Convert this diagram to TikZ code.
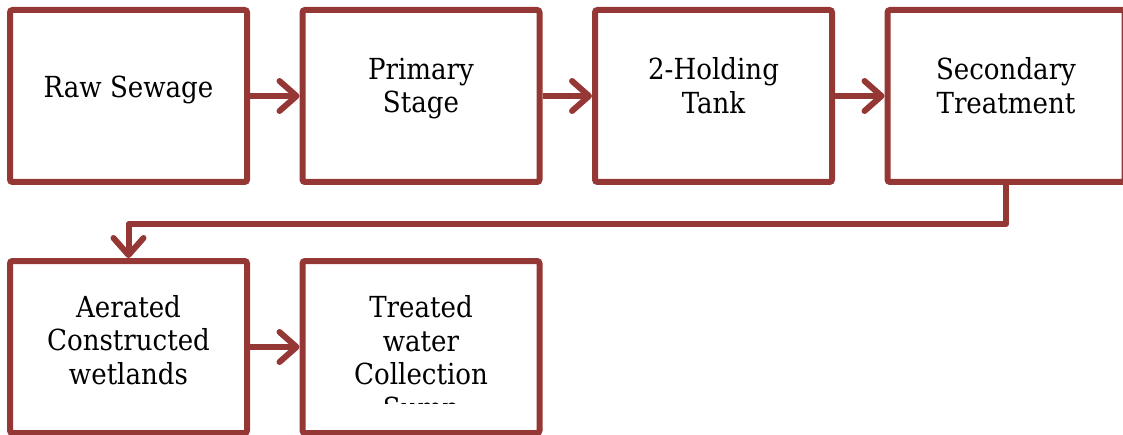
\documentclass[tikz,border=0pt]{standalone}
\usepackage{fontspec}
\setmainfont{DejaVu Serif Condensed}
\usetikzlibrary{arrows.meta}
\definecolor{boxred}{RGB}{149,55,53}
\tikzset{
  stepbox/.style={draw=boxred, line width=6pt, rounded corners=2.5pt, fill=white,
    minimum width=237pt, minimum height=172pt, inner sep=0pt},
  txt/.style={align=center, font=\fontsize{29}{33.5}\selectfont, inner sep=0pt,
    execute at begin node=\strut, execute at end node=\strut},
  conn/.style={draw=boxred, line width=6pt,
    -{Straight Barb[length=17pt,width=30pt,round]}},
}
\begin{document}
\begin{tikzpicture}[x=1pt,y=1pt]
\useasboundingbox (0,0) rectangle (1123,434);
\fill[white] (0,0) rectangle (1123,434);
% row 1
\node[stepbox] (b1) at (128.5,338) {};
\node[stepbox] (b2) at (421,338) {};
\node[stepbox] (b3) at (713.5,338) {};
\node[stepbox] (b4) at (1006,338) {};
% row 2
\node[stepbox] (b5) at (128.5,87) {};
\node[stepbox] (b6) at (421,87) {};
% texts
\node[txt] (t1) at (128.5,343.5) {Raw Sewage};
\node[txt] (t2) at (421,343.5) {Primary\\Stage};
\node[txt] (t3) at (713.5,343.5) {2-Holding\\Tank};
\node[txt] (t4) at (1006,343.5) {Secondary\\Treatment};
\node[txt] (t5) at (128.5,89) {Aerated\\Constructed\\wetlands};
\begin{scope}
\clip (305,31) rectangle (538,258);
\node[txt] (t6) at (421,72) {Treated\\water\\Collection\\Sump};
\end{scope}
% connectors
\coordinate (mid) at (500,210);
\draw[conn] (b1) -- (b2);
\draw[conn] (b2) -- (b3);
\draw[conn] (b3) -- (b4);
\draw[conn] (b5) -- (b6);
\draw[conn, line join=round] (b4.south) |- (mid) -| (b5.north);
\end{tikzpicture}
\end{document}
